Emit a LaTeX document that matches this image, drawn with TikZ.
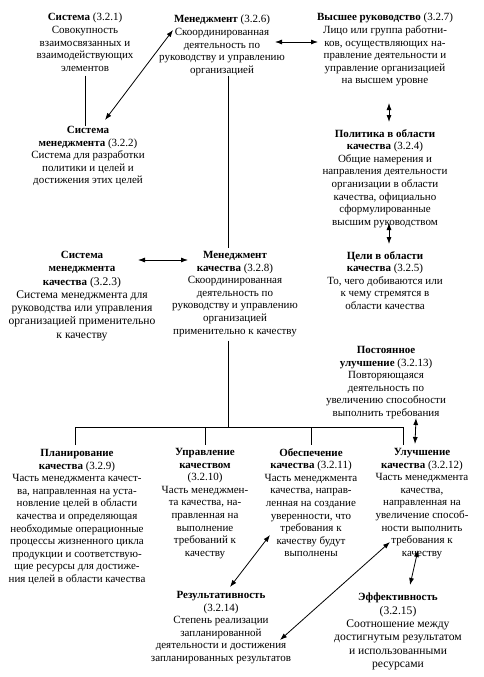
\documentclass[tikz,border=0pt]{standalone}
\usepackage{fontspec}
\setmainfont{Liberation Serif}
\usepackage{tikz}
\usetikzlibrary{arrows.meta,positioning,calc}
\newcommand{\ttl}[1]{{\fontsize{11}{13}\selectfont\bfseries #1}}
\begin{document}
\begin{tikzpicture}[x=1pt,y=-1pt,
		term/.style={align=center,inner sep=0pt,anchor=north,font=\fontsize{11}{12.6}\selectfont},
		termbig/.style={term,font=\fontsize{11.6}{13.3}\selectfont},
		link/.style={line width=0.8pt},
		twoway/.style={line width=0.8pt,{Latex[length=7pt,width=5pt]}-{Latex[length=7pt,width=5pt]}}]
		\useasboundingbox (0,0) rectangle (483,677);
		% top row
		\node[term] (sys) at (85,13) {\textbf{Система} (3.2.1)\\Совокупность\\взаимосвязанных и\\взаимодействующих\\элементов};
		\node[term] (sysm) at (88,126) {\textbf{Система}\\\textbf{менеджмента} (3.2.2)\\Система для разработки\\политики и целей и\\достижения этих целей};
		\node[term] (mgmt) at (222,15) {\textbf{Менеджмент} (3.2.6)\\Скоординированная\\деятельность по\\руководству и управлению\\организацией};
		\node[term] (top) at (385,13) {\textbf{Высшее руководство} (3.2.7)\\Лицо или группа работни-\\ков, осуществляющих на-\\правление деятельности и\\управление организацией\\на высшем уровне};
		% right column
		\node[term] (pol) at (385,129) {\textbf{Политика в области}\\\textbf{качества} (3.2.4)\\Общие намерения и\\направления деятельности\\организации в области\\качества, официально\\сформулированные\\высшим руководством};
		\node[term] (obj) at (385,251) {\textbf{Цели в области}\\\textbf{качества} (3.2.5)\\То, чего добиваются или\\к чему стремятся в\\области качества};
		\node[term] (cont) at (386,346) {\textbf{Постоянное}\\\textbf{улучшение} (3.2.13)\\Повторяющаяся\\деятельность по\\увеличению способности\\выполнить требования};
		% middle row
		\node[termbig] (qms) at (82,251) {\ttl{Система}\\\ttl{менеджмента}\\\ttl{качества} (3.2.3)\\Система менеджмента для\\руководства или управления\\организацией применительно\\к качеству};
		\node[term] (qm) at (235,251) {\textbf{Менеджмент}\\\textbf{качества} (3.2.8)\\Скоординированная\\деятельность по\\руководству и управлению\\организацией\\применительно к качеству};
		% parts of quality management
		\node[term] (plan) at (77,449) {\textbf{Планирование}\\\textbf{качества} (3.2.9)\\Часть менеджмента качест-\\ва, направленная на уста-\\новление целей в области\\качества и определяющая\\необходимые операционные\\процессы жизненного цикла\\продукции и соответствую-\\щие ресурсы для достиже-\\ния целей в области качества};
		\node[term] (ctrl) at (205,448) {\textbf{Управление}\\\textbf{качеством}\\(3.2.10)\\Часть менеджмен-\\та качества, на-\\правленная на\\выполнение\\требований к\\качеству};
		\node[term] (assur) at (311,448) {\textbf{Обеспечение}\\\textbf{качества} (3.2.11)\\Часть менеджмента\\качества, направ-\\ленная на создание\\уверенности, что\\требования к\\качеству будут\\выполнены};
		\node[term] (impr) at (422,448) {\textbf{Улучшение}\\\textbf{качества} (3.2.12)\\Часть менеджмента\\качества,\\направленная на\\увеличение способ-\\ности выполнить\\требования к\\качеству};
		% bottom row
		\node[term] (eff) at (221,591) {\textbf{Результативность}\\(3.2.14)\\Степень реализации\\запланированной\\деятельности и достижения\\запланированных результатов};
		\node[termbig] (effy) at (398,593) {\ttl{Эффективность}\\(3.2.15)\\Соотношение между\\достигнутым результатом\\и использованными\\ресурсами};
		% plain links
		\draw[link,shorten <=4pt] (sys.south) -- (sys.south |- sysm.north);
		\draw[link,shorten >=3pt] ($(mgmt.south)+(6,0)$) -- ($(qm.north)+(-7,0)$);
		\coordinate (qmout) at ($(qm.south)+(-7,4)$);
		\coordinate (busL) at ($(plan.north)+(-2,-22)$);
		\coordinate (busR) at ($(impr.north)+(-19,-21)$);
		\draw[link] (qmout) -- (qmout |- busL);
		\draw[link,shorten <=4pt] (plan.north -| busL) -- (busL) -- (busR) -- ([yshift=3pt]busR |- impr.north);
		\draw[link,shorten >=3pt] (ctrl.north |- busL) -- (ctrl.north);
		\draw[link,shorten >=3pt] (assur.north |- busL) -- (assur.north);
		% two-way arrows
		\draw[twoway] ($(sysm.north)+(17,-6)$) -- ($(mgmt.north)+(-49,15)$);
		\draw[twoway] ($(mgmt.north)+(53,27)$) -- ($(top.north)+(-67,29)$);
		\draw[twoway] ($(top.north)+(4,90)$) -- ($(pol.north)+(4,-7)$);
		\draw[twoway] ($(pol.north)+(4,94)$) -- ($(obj.north)+(4,-7)$);
		\draw[twoway] ($(qms.north)+(56,9)$) -- ($(qm.north)+(-47,9)$);
		\draw[twoway] ($(cont.north)+(30,72)$) -- ($(impr.north)+(-7,-4)$);
		\draw[twoway] ($(assur.north)+(-41,87)$) -- ($(eff.north)+(9,-4)$);
		\draw[twoway] ($(impr.north)+(-32,94)$) -- ($(eff.north)+(59,49)$);
		\draw[twoway] ($(impr.north)+(-4,102)$) -- ($(effy.north)+(12,-8)$);
\end{tikzpicture}
\end{document}
